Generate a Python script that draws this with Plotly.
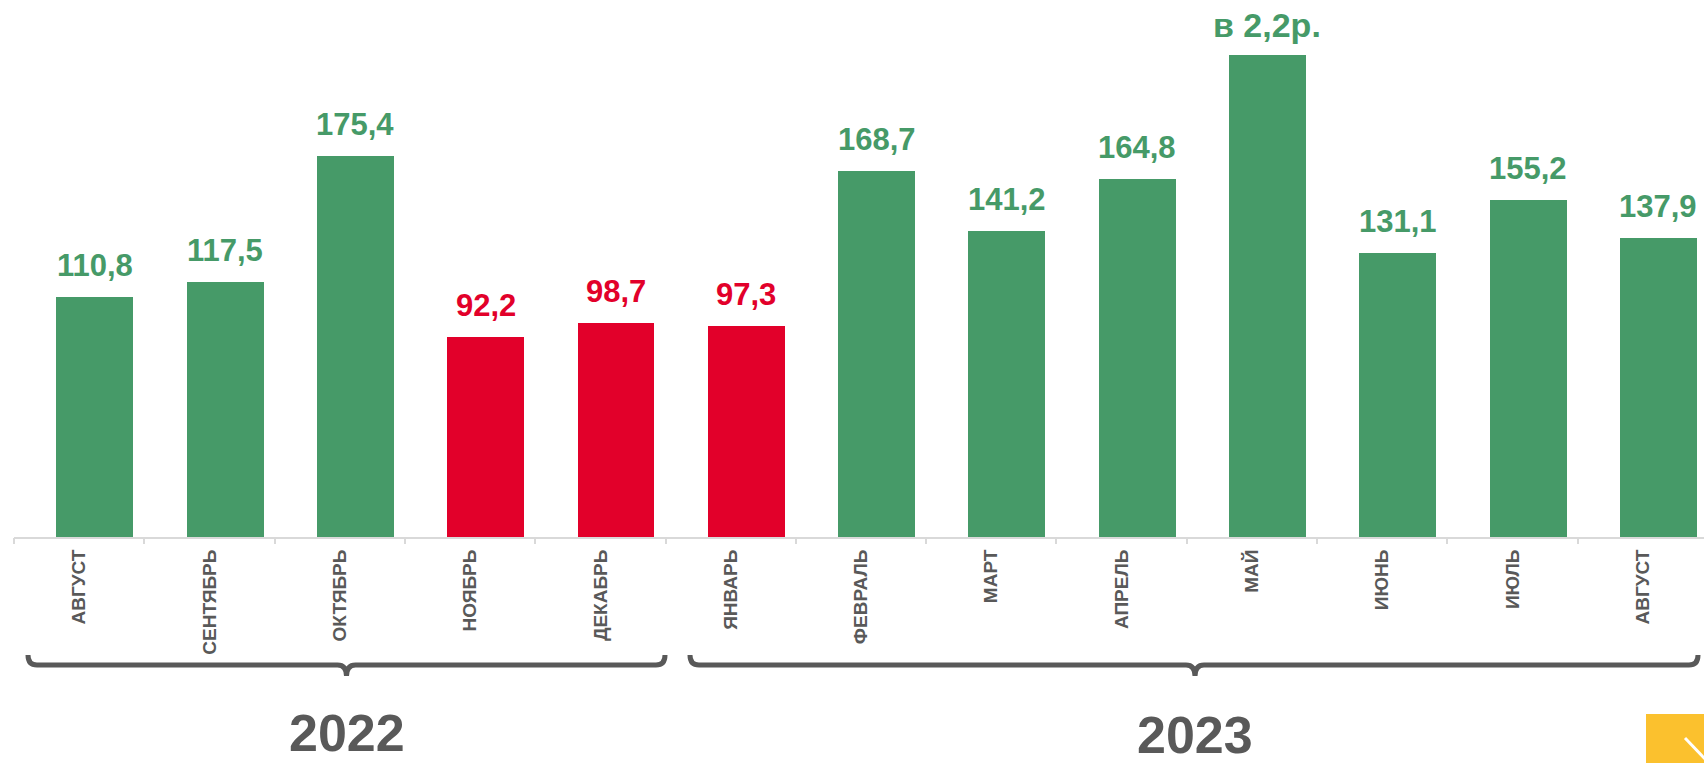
import plotly.graph_objects as go

months = ["АВГУСТ", "СЕНТЯБРЬ", "ОКТЯБРЬ", "НОЯБРЬ", "ДЕКАБРЬ", "ЯНВАРЬ", "ФЕВРАЛЬ",
          "МАРТ", "АПРЕЛЬ", "МАЙ", "ИЮНЬ", "ИЮЛЬ", "АВГУСТ"]
values = [110.8, 117.5, 175.4, 92.2, 98.7, 97.3, 168.7, 141.2, 164.8, 222.0, 131.1, 155.2, 137.9]
value_labels = ["110,8", "117,5", "175,4", "92,2", "98,7", "97,3", "168,7", "141,2",
                "164,8", "в 2,2р.", "131,1", "155,2", "137,9"]
growth = [True, True, True, False, False, False, True, True, True, True, True, True, True]
years = ["2022", "2023"]

GREEN = "#469A68"
RED = "#E2002A"
GRAY = "#595959"
FONT = "Liberation Sans, Arial, sans-serif"

W, H = 1704, 763
L, R, T, B = 14, 0, 0, 226
plot_w = W - L - R
plot_h = H - T - B
n = len(months)
cat_w = 130.3
x_max = plot_w / cat_w - 0.5
y_max = plot_h / 2.17

bar_w = 0.59
bar_off = -0.175

x_idx = list(range(n))
colors = [GREEN if g else RED for g in growth]

fig = go.Figure()
fig.add_trace(go.Bar(
    x=x_idx, y=values, width=bar_w, offset=bar_off,
    marker=dict(color=colors, line=dict(width=0)),
    hoverinfo="skip", showlegend=False,
))
# invisible trace on second axis so it renders boundary ticks
fig.add_trace(go.Scatter(x=[-0.5], y=[0], xaxis="x2", mode="markers",
                         marker=dict(opacity=0), showlegend=False, hoverinfo="skip"))

ann = []
for i, (v, lab, c) in enumerate(zip(values, value_labels, colors)):
    big = lab.startswith("в")
    ann.append(dict(
        x=i + bar_off + bar_w / 2, y=v, xref="x", yref="y",
        text="<b>" + lab + "</b>", showarrow=False, yanchor="bottom",
        yshift=12 if not big else 9,
        font=dict(family=FONT, size=31 if not big else 34, color=c),
    ))

def px(xp):
    return (xp - L) / plot_w

def py(yp):
    return (T + plot_h - yp) / plot_h

shapes = []
brace_px = [(28, 665, 346.5), (690, 1698, 1195)]
for (x0, x1, xm) in brace_px:
    top, mid, tip = 655, 665, 676
    r = 9
    path = (f"M {px(x0)},{py(top)} Q {px(x0)},{py(mid)} {px(x0 + r)},{py(mid)} "
            f"L {px(xm - r)},{py(mid)} Q {px(xm)},{py(mid)} {px(xm)},{py(tip)} "
            f"Q {px(xm)},{py(mid)} {px(xm + r)},{py(mid)} "
            f"L {px(x1 - r)},{py(mid)} Q {px(x1)},{py(mid)} {px(x1)},{py(top)}")
    shapes.append(dict(type="path", path=path, xref="paper", yref="paper",
                       line=dict(color=GRAY, width=5), fillcolor="rgba(0,0,0,0)"))

# year labels
year_pos = [(346.5, 733), (1195, 735)]
for yr, (xc, yc) in zip(years, year_pos):
    ann.append(dict(x=px(xc), y=py(yc), xref="paper", yref="paper", text="<b>" + yr + "</b>",
                    showarrow=False, xanchor="center", yanchor="middle",
                    font=dict(family=FONT, size=52, color=GRAY)))

# yellow corner button
shapes.append(dict(type="rect", xref="paper", yref="paper", x0=px(1646), x1=px(1706),
                   y0=py(714), y1=py(766), fillcolor="#FBC12E", line=dict(width=0)))
shapes.append(dict(type="line", xref="paper", yref="paper", x0=px(1685), y0=py(738),
                   x1=px(1706), y1=py(760), line=dict(color="white", width=3)))

fig.update_layout(
    width=W, height=H,
    margin=dict(l=L, r=R, t=T, b=B, pad=0),
    paper_bgcolor="white", plot_bgcolor="white",
    bargap=0,
    xaxis=dict(
        range=[-0.5, x_max], tickmode="array", tickvals=x_idx,
        ticktext=["<b>" + m + "</b>" for m in months],
        tickangle=-90, ticks="", showgrid=False, zeroline=False,
        showline=True, linecolor="#D9D9D9", linewidth=2,
        tickfont=dict(family=FONT, size=19, color=GRAY),
        ticklabelstandoff=3, fixedrange=True,
    ),
    xaxis2=dict(
        range=[-0.5, x_max], overlaying="x", side="bottom", anchor="y",
        tickmode="array", tickvals=[i - 0.5 for i in range(n + 1)],
        ticks="outside", ticklen=6, tickwidth=2, tickcolor="#D9D9D9",
        showticklabels=False, showgrid=False, zeroline=False, showline=False,
    ),
    yaxis=dict(range=[0, y_max], visible=False, fixedrange=True),
    annotations=ann,
    shapes=shapes,
)

fig.write_html(
    "out.html",
    config={"displayModeBar": False},
    post_script="document.body.style.margin='0';document.body.style.overflow='hidden';",
)
